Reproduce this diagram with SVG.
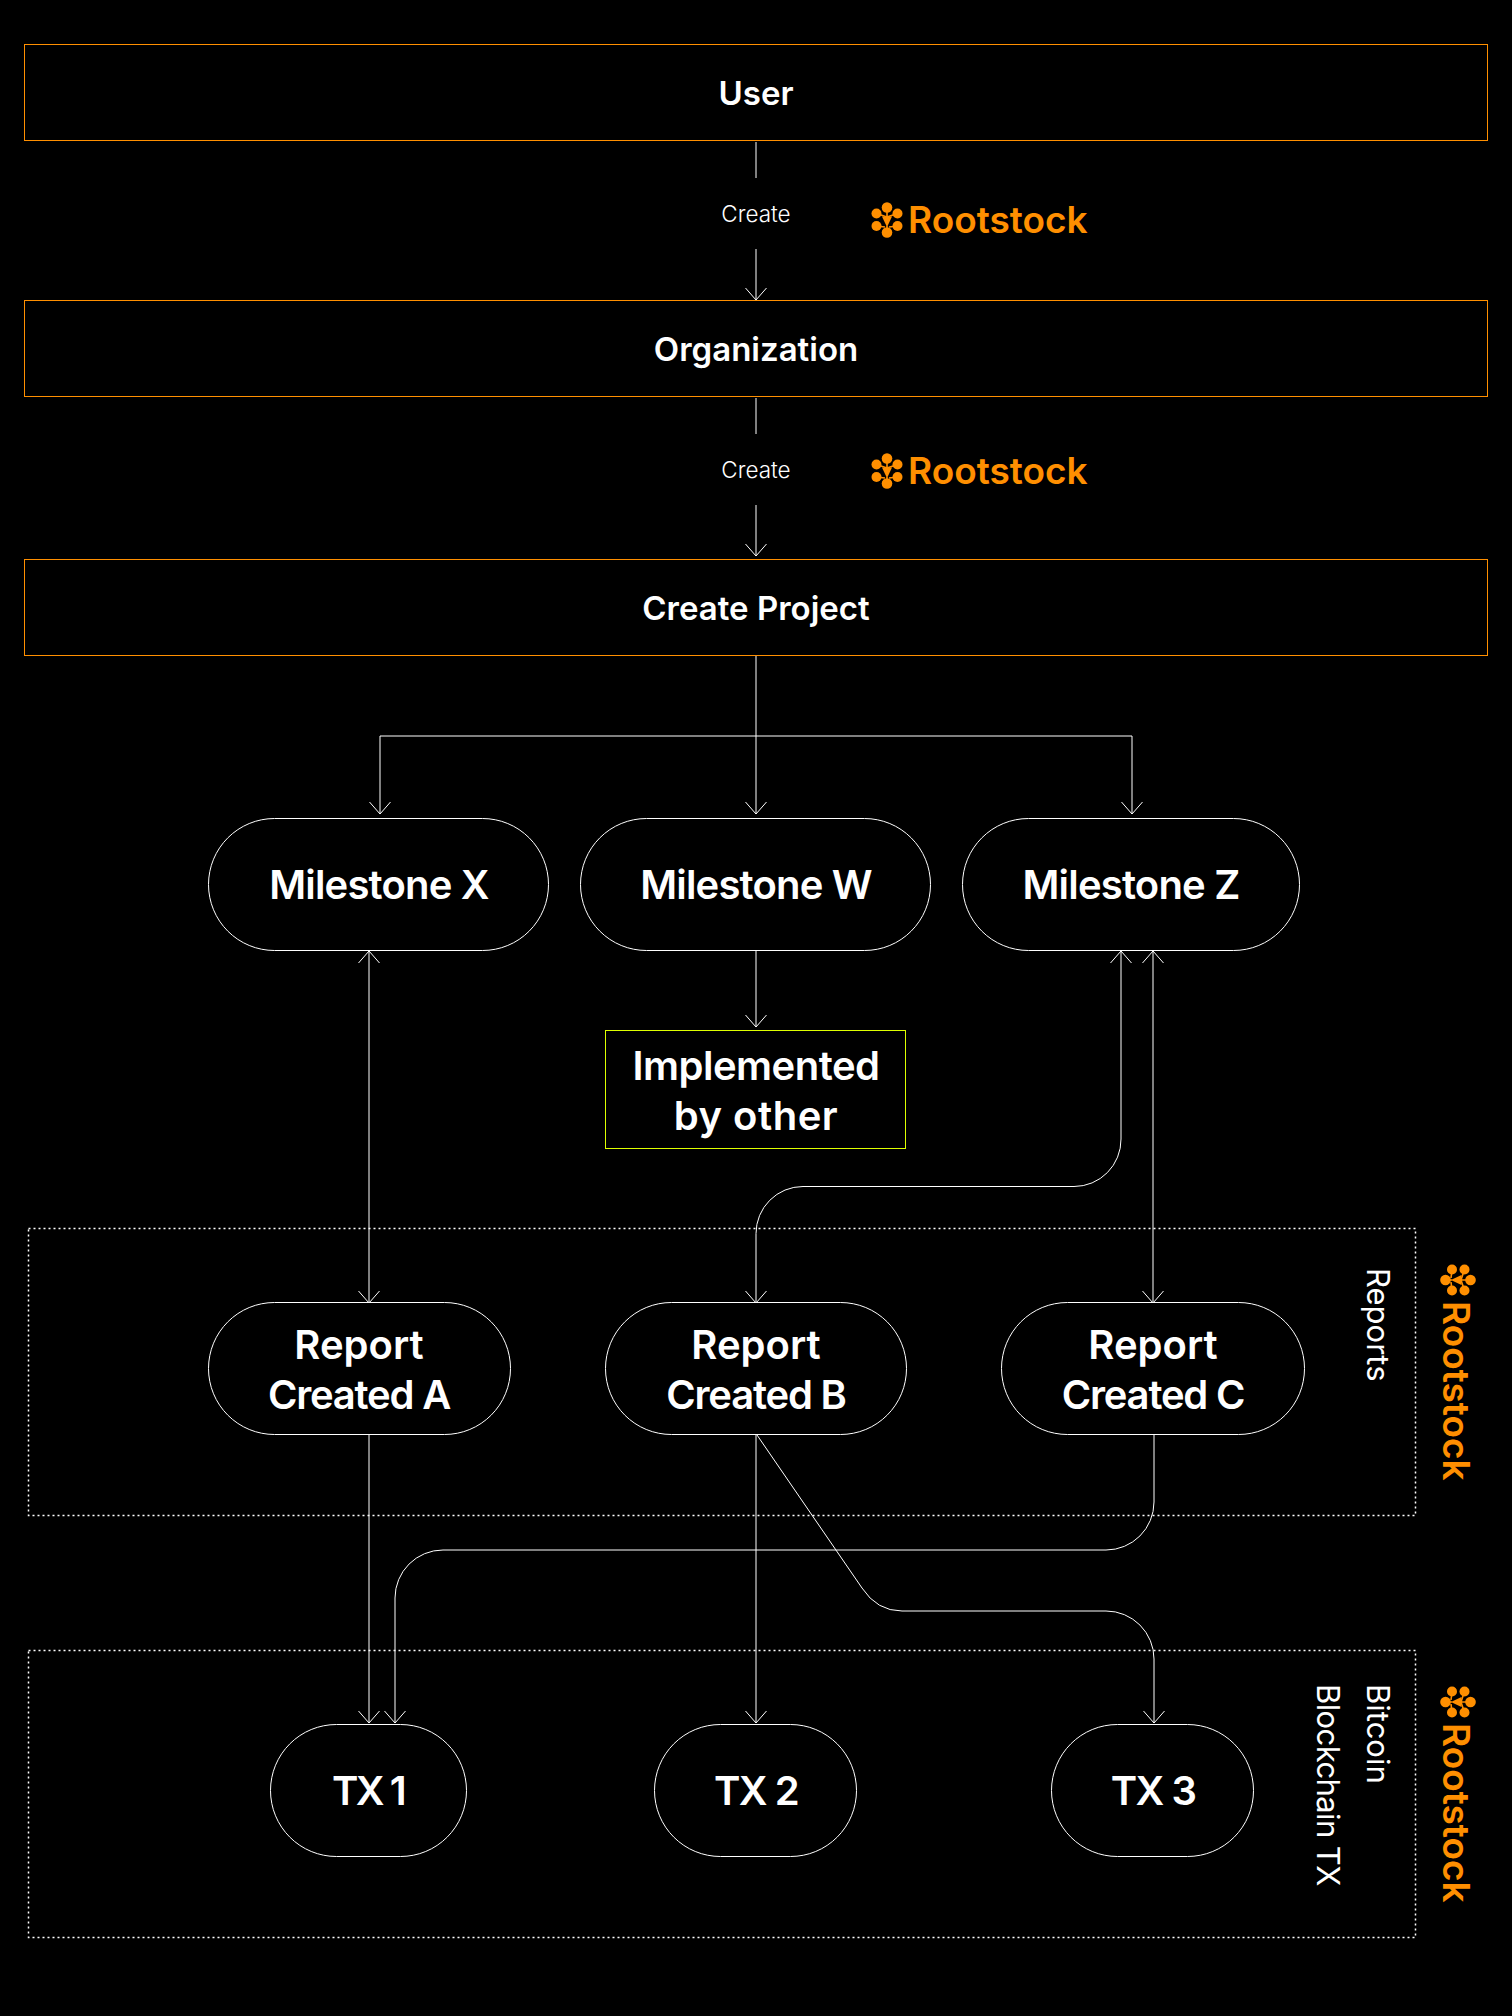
<svg xmlns="http://www.w3.org/2000/svg" width="1512" height="2016" viewBox="0 0 1512 2016">
<style>
text{font-family:Inter,"Liberation Sans",sans-serif;fill:#fff;text-anchor:middle}
.h{font-size:33px;font-weight:600}
.t{font-size:40px;font-weight:600;letter-spacing:-.8px}
.s{font-size:22.5px;font-weight:300}
.v{font-size:31px;font-weight:400;text-anchor:start}
.b{fill:none;stroke:#ff8f00;stroke-width:1}
.p{fill:none;stroke:#fff;stroke-width:1}
.g{fill:none;stroke:#fff;stroke-width:1.5;stroke-dasharray:2 3}
.y{fill:none;stroke:#deff00;stroke-width:1}
.c{fill:none;stroke:#fff;stroke-width:1}
.brand{font-size:37px;font-weight:600;fill:#ff8f00;text-anchor:start}
</style>
<defs>
<marker id="a" markerUnits="userSpaceOnUse" markerWidth="16" markerHeight="26" refX="14" refY="13" orient="auto-start-reverse" viewBox="0 0 16 26"><path d="M2 2.5 14 13 2 23.5" fill="none" stroke="#fff" stroke-width="1"/></marker>
<g id="icon" fill="#ff8f00" stroke="none">
<circle cx="0" cy="-12.5" r="5.3"/><circle cx="-10.5" cy="-6.5" r="5"/><circle cx="10.5" cy="-6.5" r="5"/><circle cx="-10.5" cy="6" r="5"/><circle cx="10.5" cy="6" r="5"/><circle cx="0" cy="12.5" r="5.3"/><path d="M-5 -3.500H5L1 5H-1Z"/>
<path d="M0 -12V0M-10.500 -6.500 0 -3M10.500 -6.500 0 -3M-10.500 6-2 7M10.500 6 2 7M0 0V12" stroke="#ff8f00" stroke-width="1.600" fill="none"/>
</g>
</defs>
<rect width="1512" height="2016" fill="#000"/>
<g id="connectors">
<path class="c" d="M756 142V178"/>
<path class="c" d="M756 249V300" marker-end="url(#a)"/>
<path class="c" d="M756 398V434"/>
<path class="c" d="M756 505V556" marker-end="url(#a)"/>
<path class="c" d="M756 656V814" marker-end="url(#a)"/>
<path class="c" d="M756 736H380V814" marker-end="url(#a)"/>
<path class="c" d="M756 736H1132V814" marker-end="url(#a)"/>
<path class="c" d="M756 951V1027" marker-end="url(#a)"/>
<path class="c" d="M369 951V1303" marker-start="url(#a)" marker-end="url(#a)"/>
<path class="c" d="M1153 951V1303" marker-start="url(#a)" marker-end="url(#a)"/>
<path class="c" d="M1121 951V1139A47 47 0 0 1 1074 1186.500H803A47 47 0 0 0 756 1233.500V1303" marker-start="url(#a)" marker-end="url(#a)"/>
<path class="c" d="M369 1435V1723" marker-end="url(#a)"/>
<path class="c" d="M1154 1435V1502A48 48 0 0 1 1106 1550H443A48 48 0 0 0 395 1598V1723" marker-end="url(#a)"/>
<path class="c" d="M756 1435V1723" marker-end="url(#a)"/>
<path class="c" d="M757 1435 862 1588Q877 1611 902 1611H1106A48 48 0 0 1 1154 1659V1723" marker-end="url(#a)"/>
</g>
<g id="user"><rect class="b" x="24.5" y="44.500" width="1463" height="96"/><text class="h" x="756" y="105">User</text></g>
<g id="organization"><rect class="b" x="24.5" y="300.500" width="1463" height="96"/><text class="h" x="756" y="361">Organization</text></g>
<g id="create-project"><rect class="b" x="24.5" y="559.500" width="1463" height="96"/><text class="h" x="756" y="620">Create Project</text></g>
<g id="label-create-1"><text class="s" x="756" y="222">Create</text></g>
<g id="label-create-2"><text class="s" x="756" y="478">Create</text></g>
<g id="logo-1"><use href="#icon" x="887" y="220"/><text class="brand" x="908" y="233">Rootstock</text></g>
<g id="logo-2"><use href="#icon" x="887" y="471"/><text class="brand" x="908" y="484">Rootstock</text></g>
<g id="milestone-x"><rect class="p" x="208.5" y="818.500" width="340" height="132" rx="66"/><text class="t" x="379" y="899">Milestone X</text></g>
<g id="milestone-w"><rect class="p" x="580.5" y="818.500" width="350" height="132" rx="66"/><text class="t" x="756" y="899">Milestone W</text></g>
<g id="milestone-z"><rect class="p" x="962.5" y="818.500" width="337" height="132" rx="66"/><text class="t" x="1131" y="899">Milestone Z</text></g>
<g id="implemented"><rect class="y" x="605.5" y="1030.500" width="300" height="118"/><text class="t" style="letter-spacing:-.5px" x="756" y="1080">Implemented</text><text class="t" style="letter-spacing:.5px" x="756" y="1130">by other</text></g>
<g id="reports-group"><rect class="g" x="28.5" y="1228.500" width="1387" height="287"/><text class="v" transform="translate(1367 1268) rotate(90)">Reports</text><g transform="translate(1458 1280) rotate(90)"><use href="#icon"/><text class="brand" x="21" y="15">Rootstock</text></g></g>
<g id="report-a"><rect class="p" x="208.5" y="1302.500" width="302" height="132" rx="66"/><text class="t" style="letter-spacing:0" x="359" y="1359">Report</text><text class="t" style="letter-spacing:-1.2px" x="359" y="1409">Created A</text></g>
<g id="report-b"><rect class="p" x="605.5" y="1302.500" width="301" height="132" rx="66"/><text class="t" style="letter-spacing:0" x="756" y="1359">Report</text><text class="t" style="letter-spacing:-1.2px" x="756" y="1409">Created B</text></g>
<g id="report-c"><rect class="p" x="1001.5" y="1302.500" width="303" height="132" rx="66"/><text class="t" style="letter-spacing:0" x="1153" y="1359">Report</text><text class="t" style="letter-spacing:-1.2px" x="1153" y="1409">Created C</text></g>
<g id="bitcoin-group"><rect class="g" x="28.5" y="1650.500" width="1387" height="287"/><text class="v" transform="translate(1367 1684) rotate(90)">Bitcoin</text><text class="v" style="letter-spacing:-.6px" transform="translate(1317 1684) rotate(90)">Blockchain TX</text><g transform="translate(1458 1702) rotate(90)"><use href="#icon"/><text class="brand" x="21" y="15">Rootstock</text></g></g>
<g id="tx-1"><rect class="p" x="270.5" y="1724.500" width="196" height="132" rx="66"/><text class="t" style="letter-spacing:-2.5px" x="368" y="1805">TX 1</text></g>
<g id="tx-2"><rect class="p" x="654.5" y="1724.500" width="202" height="132" rx="66"/><text class="t" style="letter-spacing:-1.5px" x="756" y="1805">TX 2</text></g>
<g id="tx-3"><rect class="p" x="1051.5" y="1724.500" width="202" height="132" rx="66"/><text class="t" style="letter-spacing:-1.5px" x="1153" y="1805">TX 3</text></g>
</svg>
